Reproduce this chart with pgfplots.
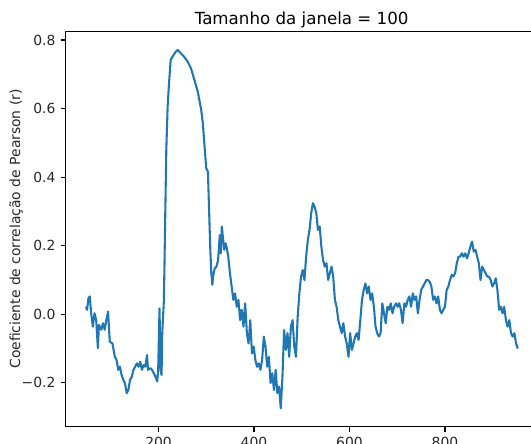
\documentclass[border=0pt]{standalone}
\usepackage{pgfplots}
\pgfplotsset{compat=1.18}
\usepackage{fontspec}
\setmainfont{DejaVu Sans}
\definecolor{mplblue}{HTML}{1F77B4}
\begin{document}
\begin{tikzpicture}
\useasboundingbox (0,0) rectangle (382.32pt,318.96pt);
\clip (0,0) rectangle (382.32pt,318.96pt);
\begin{axis}[
  at={(47.1pt,11.7pt)}, anchor=south west,
  scale only axis, width=340.3pt, height=284.4pt,
  xmin=5, xmax=995, ymin=-0.328, ymax=0.824,
  axis line style={line width=0.8pt},
  tick align=outside, major tick length=3.5pt,
  tick style={line width=0.8pt, black},
  xtick pos=bottom, ytick pos=left,
  xtick={200,400,600,800}, xticklabels={200,400,600,800},
  ytick={-0.2,0,0.2,0.4,0.6,0.8},
  yticklabels={−0.2,0.0,0.2,0.4,0.6,0.8},
  /pgf/number format/assume math mode=true,
  tick label style={font=\fontsize{10}{12}\selectfont, text=black!85},
  yticklabel style={anchor=east, inner sep=0pt, xshift=-3.5pt},
  xticklabel style={anchor=north, inner sep=0pt, yshift=-3.5pt},
  minor tick num=0,
]
\addplot[mplblue, line width=1.5pt, line join=round, mark=none] table {
48.2 0.022
50.4 0.013
53.2 0.047
56.0 0.052
58.9 0.003
62.4 -0.036
66.0 0.003
69.5 -0.017
73.0 -0.099
75.2 -0.031
80.1 -0.045
83.7 -0.026
87.2 -0.045
90.8 -0.017
94.3 0.008
97.9 -0.080
103.5 -0.085
108.5 -0.124
112.1 -0.133
115.6 -0.162
119.1 -0.153
122.7 -0.177
126.2 -0.191
129.8 -0.201
133.3 -0.230
136.9 -0.221
140.4 -0.191
144.0 -0.182
147.5 -0.162
151.1 -0.153
154.6 -0.143
158.2 -0.153
161.7 -0.138
165.2 -0.162
168.8 -0.148
172.3 -0.153
175.9 -0.119
178.0 -0.162
183.0 -0.157
186.5 -0.162
190.1 -0.172
193.6 -0.182
197.2 -0.196
199.3 -0.162
202.1 0.017
204.3 -0.162
206.4 -0.177
207.8 -0.055
211.3 0.042
213.5 0.236
216.3 0.479
219.1 0.606
222.0 0.674
225.5 0.742
229.1 0.751
236.2 0.766
240.4 0.771
246.8 0.761
253.9 0.751
261.0 0.737
268.1 0.717
275.2 0.683
282.3 0.649
289.4 0.596
292.9 0.557
296.4 0.489
300.0 0.426
303.5 0.416
305.7 0.314
308.5 0.188
310.6 0.120
312.8 0.086
314.2 0.110
317.7 0.134
321.3 0.139
324.8 0.158
328.4 0.231
330.5 0.178
332.6 0.256
335.5 0.217
337.6 0.188
340.4 0.207
342.5 0.197
346.1 0.168
349.6 0.120
353.2 0.081
356.7 0.042
360.3 0.061
363.8 0.022
367.4 0.042
370.9 -0.017
374.4 0.013
378.0 -0.036
381.5 0.032
385.1 -0.055
388.6 -0.085
392.2 -0.017
395.7 -0.114
399.3 -0.094
402.8 -0.133
406.4 -0.153
409.9 -0.143
413.5 -0.162
417.0 -0.133
420.6 -0.065
424.1 -0.094
427.6 -0.153
431.2 -0.124
434.7 -0.201
438.3 -0.172
441.8 -0.221
445.4 -0.162
448.9 -0.230
452.5 -0.211
456.0 -0.274
459.6 -0.182
463.1 -0.046
466.7 -0.104
470.2 -0.055
473.7 -0.124
477.3 -0.036
480.8 -0.017
484.4 -0.094
487.9 -0.124
491.5 -0.007
495.0 0.061
498.6 0.110
502.1 0.129
505.7 0.100
509.2 0.168
512.8 0.217
516.3 0.246
519.8 0.295
523.4 0.324
526.9 0.314
530.5 0.295
534.0 0.246
537.6 0.256
541.1 0.197
544.7 0.158
548.2 0.139
551.8 0.149
555.3 0.100
558.9 0.120
562.4 0.139
565.9 0.110
569.5 0.042
573.0 0.022
576.6 -0.017
580.1 -0.036
583.7 -0.055
587.2 -0.026
590.8 -0.065
594.3 -0.085
597.9 -0.124
601.4 -0.055
605.0 -0.104
608.5 -0.085
612.0 -0.065
615.6 -0.055
619.1 -0.075
622.7 -0.017
626.2 0.042
629.8 0.071
633.3 0.090
636.9 0.061
640.4 0.081
644.0 0.042
647.5 0.061
651.1 0.022
654.6 -0.036
658.1 -0.055
661.7 -0.065
665.2 -0.055
668.8 0.032
672.3 0.003
675.9 -0.026
679.4 0.022
683.0 0.013
686.5 0.032
690.1 0.003
693.6 0.022
697.2 0.032
700.7 0.022
704.2 0.032
707.8 0.013
711.3 -0.026
714.9 0.032
718.4 0.022
722.0 0.042
725.5 0.052
729.1 0.022
732.6 0.061
736.2 0.042
739.7 0.052
743.3 0.003
746.8 0.042
750.3 0.071
753.9 0.081
757.4 0.090
761.0 0.100
764.5 0.100
768.1 0.095
771.6 0.081
775.2 0.042
778.7 0.052
782.3 0.032
785.8 0.052
789.4 0.013
792.9 0.003
796.4 0.013
800.0 0.022
803.5 0.071
807.1 0.081
810.6 0.100
814.2 0.115
817.7 0.110
821.3 0.120
824.8 0.149
828.4 0.168
831.9 0.168
835.5 0.178
839.0 0.168
842.6 0.178
846.1 0.163
849.6 0.178
853.2 0.197
856.7 0.212
860.3 0.183
863.8 0.188
867.4 0.168
870.9 0.149
874.5 0.100
878.0 0.139
881.6 0.129
885.1 0.120
888.7 0.110
892.2 0.110
895.7 0.100
899.3 0.081
902.8 0.090
906.4 0.105
909.9 0.071
913.5 0.013
917.0 0.022
920.6 0.003
924.1 0.022
927.7 -0.017
931.2 -0.036
934.8 -0.017
938.3 -0.055
941.8 -0.065
945.4 -0.055
948.9 -0.085
952.5 -0.100
};
\end{axis}
\node[anchor=base, font=\fontsize{12}{14}\selectfont] at (217.2pt,301.3pt) {Tamanho da janela = 100};
\node[rotate=90, anchor=center, font=\fontsize{10}{12}\selectfont, text=black!85] at (11.5pt,154.1pt) {Coeficiente de correlação de Pearson (r)};
\end{tikzpicture}
\end{document}
